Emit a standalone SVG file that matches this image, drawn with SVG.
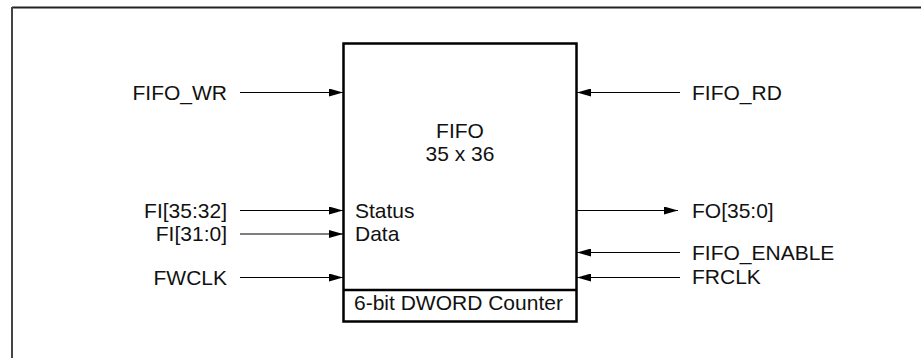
<svg xmlns="http://www.w3.org/2000/svg" width="921" height="358" viewBox="0 0 921 358">
<defs>
<marker id="ah" viewBox="0 0 14 8" refX="14" refY="4" markerWidth="14" markerHeight="8" markerUnits="userSpaceOnUse" orient="auto">
<path d="M0,0 L14,4 L0,8 Z" fill="#000"/>
</marker>
<style>
text{font-family:"Liberation Sans",Arial,Helvetica,sans-serif;font-size:21px;fill:#111}
.end{text-anchor:end}
.mid{text-anchor:middle}
.c{stroke:#000;stroke-width:1.2;fill:none;marker-end:url(#ah)}
.box{fill:#fff;stroke:#000;stroke-width:2.5}
</style>
</defs>
<rect width="921" height="358" fill="#fff"/>
<g id="frame">
<line x1="12" y1="7.5" x2="921" y2="7.5" stroke="#222" stroke-width="2"/>
<line x1="12" y1="7" x2="12" y2="358" stroke="#444" stroke-width="2"/>
</g>
<g id="fifo">
<rect class="box" x="343.5" y="43.5" width="233" height="278"/>
<line x1="343.5" y1="290" x2="576.5" y2="290" stroke="#000" stroke-width="2.5"/>
<text class="mid" x="460" y="138">FIFO</text>
<text class="mid" x="460" y="161">35 x 36</text>
<text x="355" y="218">Status</text>
<text x="355" y="241">Data</text>
<text x="354" y="310">6-bit DWORD Counter</text>
</g>
<g id="connectors">
<line class="c" x1="240" y1="92.5" x2="343" y2="92.5"/>
<line class="c" x1="240" y1="210.5" x2="343" y2="210.5"/>
<line class="c" x1="240" y1="234" x2="343" y2="234"/>
<line class="c" x1="240" y1="277.5" x2="343" y2="277.5"/>
<line class="c" x1="680" y1="92.5" x2="577" y2="92.5"/>
<line class="c" x1="577" y1="210.5" x2="678" y2="210.5"/>
<line class="c" x1="680" y1="252.5" x2="577" y2="252.5"/>
<line class="c" x1="680" y1="277.5" x2="577" y2="277.5"/>
</g>
<g id="lbl-fifo-wr"><text class="end" x="227" y="100">FIFO_WR</text></g>
<g id="lbl-fi-status"><text class="end" x="227" y="218">FI[35:32]</text></g>
<g id="lbl-fi-data"><text class="end" x="227" y="241">FI[31:0]</text></g>
<g id="lbl-fwclk"><text class="end" x="227" y="285">FWCLK</text></g>
<g id="lbl-fifo-rd"><text x="692" y="100">FIFO_RD</text></g>
<g id="lbl-fo"><text x="692" y="218">FO[35:0]</text></g>
<g id="lbl-fifo-enable"><text x="692" y="260">FIFO_ENABLE</text></g>
<g id="lbl-frclk"><text x="692" y="284">FRCLK</text></g>
</svg>
